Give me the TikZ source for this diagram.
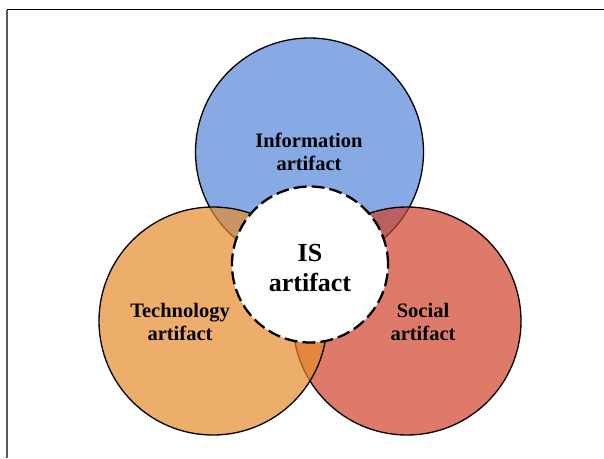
\documentclass[tikz,border=0pt]{standalone}
\usepackage{fontspec}
\setmainfont{Liberation Serif}
\definecolor{cblue}{RGB}{135,170,229}
\definecolor{corange}{RGB}{229,139,44}
\definecolor{cred}{RGB}{208,66,42}
\tikzset{
  ring/.style={circle, draw=black, line width=1.3pt, minimum size=228pt, inner sep=0pt},
  lbl/.style={align=center, font=\fontsize{20.5}{23}\selectfont\bfseries, inner sep=0pt},
}
\begin{document}
\begin{tikzpicture}[x=1pt,y=-1pt]
\useasboundingbox (0,0) rectangle (604,458);
\draw[line width=0.9pt] (7,9.5) -- (604,9.5);
\draw[line width=1.5pt, draw=black!65] (7,9.5) -- (7,458);
\node[ring, fill=cblue] (info) at (309.5,152) {};
\node[ring, fill=cred, fill opacity=0.7] (soc) at (407,321) {};
\node[ring, fill=corange, fill opacity=0.7] (tech) at (213,321) {};
\node[circle, draw=black, fill=white, line width=2.3pt, dash pattern=on 13pt off 5pt, minimum size=156pt, inner sep=0pt] (is) at (310,264.5) {};
\node[lbl] (tinfo) at (309,152) {Information\\artifact};
\node[lbl] (ttech) at (180,322) {Technology\\artifact};
\node[lbl] (tsoc) at (423,322) {Social\\artifact};
\node[align=center, font=\fontsize{26}{29.5}\selectfont\bfseries, inner sep=0pt] (tis) at (310,268) {IS\\artifact};
\end{tikzpicture}
\end{document}
